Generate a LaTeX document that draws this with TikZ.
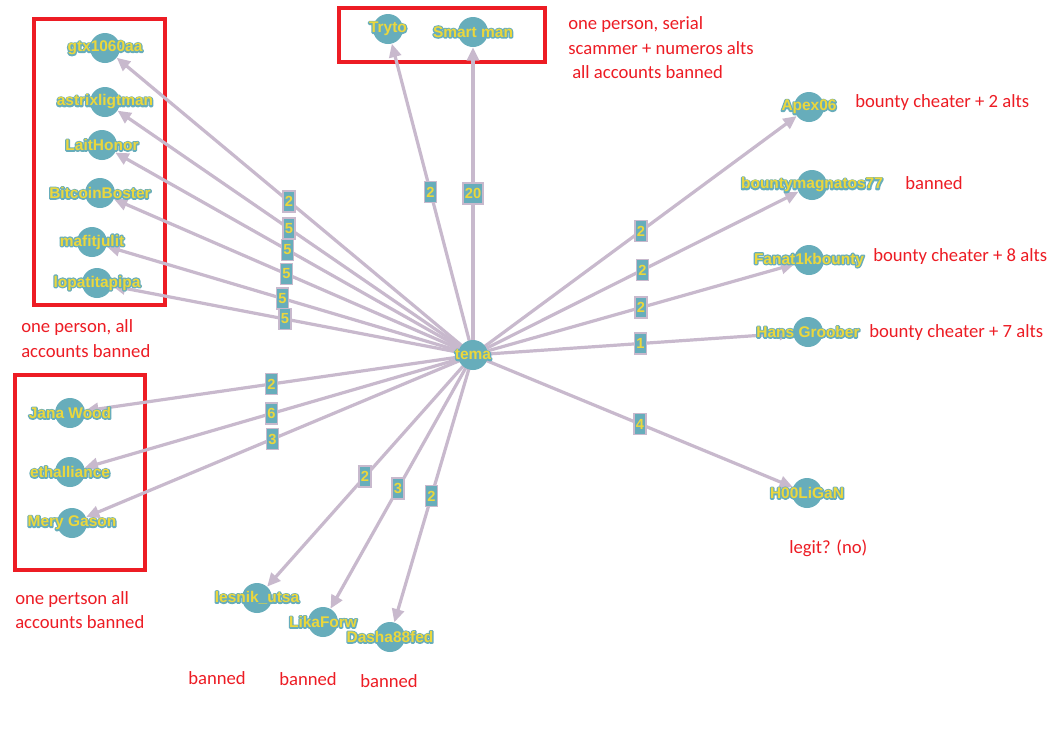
\documentclass[tikz,border=0pt]{standalone}
\usepackage{fontspec}
\usetikzlibrary{arrows.meta}
\newfontfamily\annfont{Carlito}
\newfontfamily\labfont{Liberation Sans Bold}
\newfontfamily\halofont{Liberation Sans Bold}[FakeBold=17]
\definecolor{edgec}{RGB}{200,185,205}
\definecolor{tealc}{RGB}{103,173,187}
\definecolor{yel}{RGB}{235,215,60}
\definecolor{redc}{RGB}{237,28,36}
\pgfdeclarelayer{bg}
\pgfsetlayers{bg,main}
\begin{document}
\begin{tikzpicture}[x=0.75pt,y=-0.75pt,
  usr/.style={circle,fill=tealc,minimum size=22.5pt,inner sep=0pt},
  halo/.style={text=tealc,line join=round,font=\halofont\fontsize{11.6}{11.6}\selectfont,inner sep=0pt},
  lab/.style={text=yel,font=\labfont\fontsize{11.6}{11.6}\selectfont,inner sep=0pt},
  edge/.style={draw=edgec,line width=2.4pt,-{Triangle[length=10pt,width=9pt]}},
  elab/.style={fill=tealc,draw=edgec,line width=1.2pt,text=yel,font=\labfont\fontsize{11}{11}\selectfont,inner xsep=1.3pt,inner ysep=1.5pt,minimum height=15.5pt},
  redbox/.style={draw=redc,line width=3pt},
  ann/.style={text=redc,font=\annfont\fontsize{14}{14}\selectfont,anchor=west,inner sep=0pt}]
\useasboundingbox (0,0) rectangle (1059,751);
% user circles
\foreach \n/\x/\y in {tema/473/355,gtx/105/48,astrix/105/102,lait/102/145,bitcoin/100/193,mafit/92/242,lopat/97/283,
  tryto/388/29,smart/473/32,apex/809/107,bounty/812/185,fanat/809/260,hans/808/332,hool/807/493,
  jana/70/413,eth/70/472,mery/72/523,lesnik/257/598,lika/323/622,dasha/390/637}
  \node[usr] (\n) at (\x,\y) {};
% background, boxes and edges
\begin{pgfonlayer}{bg}
\fill[white] (0,0) rectangle (1059,751);
\draw[redbox] (34,19) rectangle (165,305);
\draw[redbox] (339,8) rectangle (545,62);
\draw[redbox] (15,375) rectangle (145,570);
\foreach \n in {gtx,astrix,lait,bitcoin,mafit,lopat,tryto,smart,apex,bounty,fanat,hans,hool,jana,eth,mery,lesnik,lika,dasha}
  \draw[edge] (tema.center) -- (\n);
\end{pgfonlayer}
% edge labels
\foreach \n/\w in {gtx/2,astrix/5,lait/5,bitcoin/5,mafit/5,lopat/5,tryto/2,smart/20,apex/2,bounty/2,fanat/2,hans/1,hool/4,jana/2,eth/6,mery/3,lesnik/2,lika/3,dasha/2}
  \path (tema) -- node[elab] (l-\n) {\w} (\n);
% user labels with halo
\begin{scope}[line join=round]
\foreach \n/\t in {tema/tema,gtx/gtx1060aa,astrix/astrixligtman,lait/LaitHonor,bitcoin/BitcoinBoster,mafit/mafitjulit,lopat/lopatitapipa,
  tryto/Tryto,smart/Smart man,apex/Apex06,bounty/bountymagnatos77,fanat/Fanat1kbounty,hans/Hans Groober,hool/H00LiGaN,
  jana/Jana Wood,eth/ethalliance,mery/Mery Gason,lesnik/lesnik\_utsa,lika/LikaForw,dasha/Dasha88fed}
{
  \node[halo] (h-\n) at (\n) {\t};
  \node[lab] (t-\n) at (\n) {\t};
}
\end{scope}
% annotations
\node[ann] (a1) at (568,25) {one person, serial};
\node[ann] (a2) at (568,48) {scammer + numeros alts};
\node[ann] (a3) at (572,72) {all accounts banned};
\node[ann] (a4) at (855,103) {bounty cheater + 2 alts};
\node[ann] (a5) at (905,183) {banned};
\node[ann] (a6) at (873,257) {bounty cheater + 8 alts};
\node[ann] (a7) at (869,333) {bounty cheater + 7 alts};
\node[ann] (a8) at (789,548) {legit? (no)};
\node[ann] (a9) at (21,328) {one person, all};
\node[ann] (a10) at (21,351) {accounts banned};
\node[ann] (a11) at (15,600) {one pertson all};
\node[ann] (a12) at (15,622) {accounts banned};
\node[ann] (a13) at (188,678) {banned};
\node[ann] (a14) at (279,679) {banned};
\node[ann] (a15) at (360,681) {banned};
\end{tikzpicture}
\end{document}
